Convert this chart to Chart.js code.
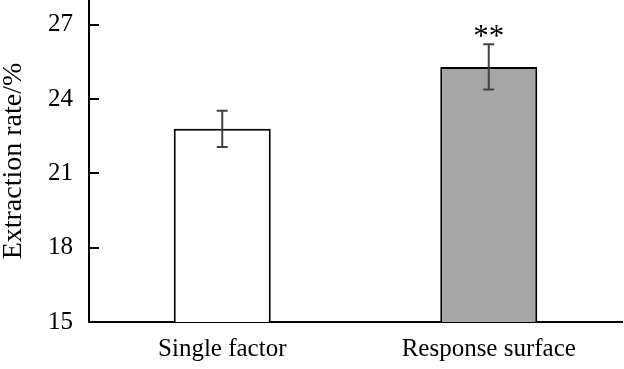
<!DOCTYPE html>
<html lang="en">
<head>
    <meta charset="UTF-8">
    <title>Extraction rate</title>
    <style>
        html, body {
            margin: 0;
            padding: 0;
            background: #fff;
        }
        #wrap {
            width: 624px;
            height: 369px;
        }
    </style>
    <script src="https://cdn.jsdelivr.net/npm/chart.js"></script>
</head>
<body>
    <div id="wrap"><canvas id="chart" width="624" height="369"></canvas></div>

    <script>
        // data
        const categories = ['Single factor', 'Response surface'];
        const values = [22.8, 25.3];
        const errors = [0.73, 0.91];
        const marks = ['', '**'];
        const yTicks = [15, 18, 21, 24, 27];

        const fontFamily = '"Liberation Serif", "Times New Roman", serif';

        // error bars, inward tick marks and significance stars
        const extras = {
            id: 'extras',
            afterDatasetsDraw(chart) {
                const ctx = chart.ctx;
                const x = chart.scales.x;
                const y = chart.scales.y;
                ctx.save();

                // y tick marks pointing into the plot
                ctx.strokeStyle = '#000';
                ctx.lineWidth = 2;
                yTicks.forEach(v => {
                    const py = Math.round(y.getPixelForValue(v));
                    ctx.beginPath();
                    ctx.moveTo(y.right, py);
                    ctx.lineTo(y.right + 10, py);
                    ctx.stroke();
                });

                values.forEach((v, i) => {
                    const cx = x.getPixelForValue(i);
                    const top = y.getPixelForValue(v + errors[i]);
                    const bot = y.getPixelForValue(v - errors[i]);
                    ctx.strokeStyle = '#404040';
                    ctx.lineWidth = 2;
                    ctx.beginPath();
                    ctx.moveTo(cx, top);
                    ctx.lineTo(cx, bot);
                    ctx.moveTo(cx - 5.5, top);
                    ctx.lineTo(cx + 5.5, top);
                    ctx.moveTo(cx - 5.5, bot);
                    ctx.lineTo(cx + 5.5, bot);
                    ctx.stroke();

                    if (marks[i]) {
                        ctx.fillStyle = '#000';
                        ctx.font = '31px ' + fontFamily;
                        ctx.textAlign = 'center';
                        ctx.textBaseline = 'alphabetic';
                        ctx.fillText(marks[i], cx, top + 2);
                    }
                });
                ctx.restore();
            }
        };

        const ctx = document.getElementById('chart').getContext('2d');
        const chart = new Chart(ctx, {
            type: 'bar',
            data: {
                labels: categories,
                datasets: [{
                    data: values,
                    backgroundColor: ['#ffffff', '#a6a6a6'],
                    borderColor: '#000',
                    borderWidth: 2,
                    borderSkipped: 'bottom',
                    barPercentage: 0.364,
                    categoryPercentage: 1
                }]
            },
            options: {
                responsive: false,
                animation: false,
                layout: {
                    padding: { left: 0, right: 2, top: 0, bottom: 0 }
                },
                plugins: {
                    legend: { display: false },
                    tooltip: { enabled: false }
                },
                scales: {
                    x: {
                        grid: { display: false, drawTicks: false },
                        border: { display: true, color: '#000', width: 2 },
                        ticks: {
                            color: '#000',
                            padding: 12,
                            font: { family: fontFamily, size: 25 }
                        },
                        afterFit(scale) {
                            scale.height = 47;
                            scale.paddingLeft = 0;
                            scale.paddingRight = 0;
                        }
                    },
                    y: {
                        min: 15,
                        max: 28,
                        grid: { display: false, drawTicks: false },
                        border: { display: true, color: '#000', width: 2 },
                        afterBuildTicks(scale) {
                            scale.ticks = yTicks.map(v => ({ value: v }));
                        },
                        ticks: {
                            color: '#000',
                            padding: 16,
                            font: { family: fontFamily, size: 25 }
                        },
                        title: {
                            display: true,
                            text: 'Extraction rate/%',
                            color: '#000',
                            padding: { top: 0, bottom: 0 },
                            font: { family: fontFamily, size: 28, lineHeight: 1 }
                        },
                        afterFit(scale) {
                            scale.width = 89;
                            scale.paddingTop = 0;
                            scale.paddingBottom = 0;
                        }
                    }
                }
            },
            plugins: [extras]
        });
    </script>
</body>
</html>
